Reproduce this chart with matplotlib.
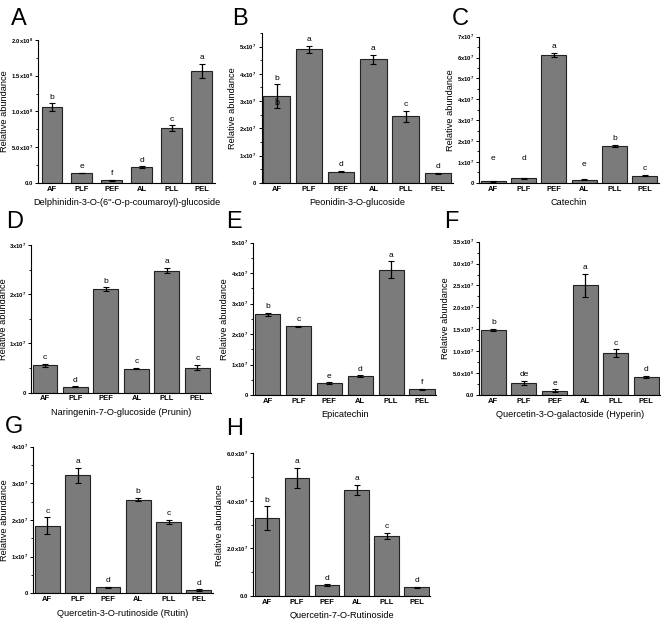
import numpy as np
import matplotlib
matplotlib.use('Agg')
import matplotlib.pyplot as plt
from matplotlib.ticker import AutoMinorLocator, FixedLocator, FuncFormatter

plt.rcParams['font.family'] = ['Liberation Sans', 'DejaVu Sans']
plt.rcParams['mathtext.default'] = 'regular'

groups = ['AF', 'PLF', 'PEF', 'AL', 'PLL', 'PEL']

# values / standard errors / significance letters
A_values = [1.056e8, 0.135e8, 0.037e8, 0.22e8, 0.765e8, 1.57e8]
A_errors = [0.055e8, 0.004e8, 0.008e8, 0.008e8, 0.04e8, 0.1e8]
A_letters = ['b', 'e', 'f', 'd', 'c', 'a']

B_values = [3.18e7, 4.90e7, 0.41e7, 4.53e7, 2.44e7, 0.34e7]
B_errors = [0.43e7, 0.12e7, 0.02e7, 0.18e7, 0.2e7, 0.03e7]
B_letters = ['b', 'a', 'd', 'a', 'c', 'd']

C_values = [0.07e7, 0.21e7, 6.12e7, 0.14e7, 1.77e7, 0.34e7]
C_errors = [0.03e7, 0.04e7, 0.1e7, 0.03e7, 0.05e7, 0.02e7]
C_letters = ['e', 'd', 'a', 'e', 'b', 'c']
C_letter_y = [0.88e7, 0.88e7, None, 0.56e7, None, None]

D_values = [0.56e7, 0.12e7, 2.10e7, 0.49e7, 2.48e7, 0.51e7]
D_errors = [0.03e7, 0.01e7, 0.04e7, 0.01e7, 0.05e7, 0.05e7]
D_letters = ['c', 'd', 'b', 'c', 'a', 'c']

E_values = [2.65e7, 2.26e7, 0.38e7, 0.62e7, 4.12e7, 0.19e7]
E_errors = [0.05e7, 0.02e7, 0.03e7, 0.02e7, 0.27e7, 0.01e7]
E_letters = ['b', 'c', 'e', 'd', 'a', 'f']

F_values = [1.48e7, 0.28e7, 0.10e7, 2.50e7, 0.95e7, 0.41e7]
F_errors = [0.03e7, 0.05e7, 0.03e7, 0.27e7, 0.09e7, 0.02e7]
F_letters = ['b', 'de', 'e', 'a', 'c', 'd']

G_values = [1.84e7, 3.22e7, 0.16e7, 2.56e7, 1.95e7, 0.09e7]
G_errors = [0.23e7, 0.2e7, 0.01e7, 0.05e7, 0.06e7, 0.02e7]
G_letters = ['c', 'a', 'd', 'b', 'c', 'd']

H_values = [3.27e7, 4.95e7, 0.46e7, 4.46e7, 2.51e7, 0.36e7]
H_errors = [0.5e7, 0.42e7, 0.03e7, 0.2e7, 0.13e7, 0.02e7]
H_letters = ['b', 'a', 'd', 'a', 'c', 'd']

titles = ['Delphinidin-3-O-(6\'\'-O-p-coumaroyl)-glucoside', 'Peonidin-3-O-glucoside',
          'Catechin', 'Naringenin-7-O-glucoside (Prunin)', 'Epicatechin',
          'Quercetin-3-O-galactoside (Hyperin)', 'Quercetin-3-O-rutinoside (Rutin)',
          'Quercetin-7-O-Rutinoside']

# (panel, values, errors, letters, y-ticks, y-top, decimals, bar width, axes rect, letter xy)
panels = [
    ('A', A_values, A_errors, A_letters, np.arange(0, 2.01e8, 5e7), 2.0e8, 1, 0.7,
     [0.0573, 0.7048, 0.2645, 0.2305], (0.017, 0.960)),
    ('B', B_values, B_errors, B_letters, np.arange(0, 5.01e7, 1e7), 5.5e7, 0, 0.82,
     [0.3918, 0.7048, 0.2856, 0.2418], (0.347, 0.960)),
    ('C', C_values, C_errors, C_letters, np.arange(0, 7.01e7, 1e7), 7.0e7, 0, 0.82,
     [0.7175, 0.7048, 0.2683, 0.2359], (0.676, 0.960)),
    ('D', D_values, D_errors, D_letters, np.arange(0, 3.01e7, 1e7), 3.0e7, 0, 0.82,
     [0.0464, 0.3656, 0.2695, 0.2386], (0.009, 0.632)),
    ('E', E_values, E_errors, E_letters, np.arange(0, 5.01e7, 1e7), 5.0e7, 0, 0.82,
     [0.3792, 0.3619, 0.2735, 0.2460], (0.339, 0.632)),
    ('F', F_values, F_errors, F_letters, np.arange(0, 3.51e7, 5e6), 3.5e7, 1, 0.82,
     [0.7175, 0.3619, 0.2705, 0.2477], (0.665, 0.632)),
    ('G', G_values, G_errors, G_letters, np.arange(0, 4.01e7, 1e7), 4.0e7, 0, 0.82,
     [0.0499, 0.0415, 0.2683, 0.2368], (0.007, 0.300)),
    ('H', H_values, H_errors, H_letters, np.arange(0, 6.01e7, 2e7), 6.0e7, 1, 0.82,
     [0.3792, 0.0372, 0.2645, 0.2305], (0.339, 0.297)),
]

# left-edge panels: pin the y label so it stays inside the figure
ylabel_x = {'A': -0.168, 'D': -0.125, 'G': -0.138}

narrow = ['Liberation Sans Narrow', 'Liberation Sans', 'DejaVu Sans']


def sci_label(dec):
    def fmt(v, pos):
        if v == 0:
            return '0' if dec == 0 else '0.' + '0' * dec
        e = int(np.floor(np.log10(v) + 1e-9))
        m = v / 10 ** e
        return f'{m:.{dec}f}x10$^{{{e}}}$'
    return fmt


fig = plt.figure(figsize=(6.68, 6.19), dpi=100)
x = np.arange(len(groups))

for i, (name, vals, errs, lets, yt, ytop, dec, bw, rect, lxy) in enumerate(panels):
    ax = fig.add_axes(rect)
    ax.bar(x, vals, width=bw, color='#7b7b7b', edgecolor='#222222', linewidth=0.8,
           yerr=errs, error_kw=dict(ecolor='black', elinewidth=0.9, capsize=2, capthick=0.8))
    ax.set_xlim(-0.46, 5.45)
    ax.set_ylim(0, ytop)
    ax.yaxis.set_major_locator(FixedLocator(yt))
    ax.yaxis.set_minor_locator(AutoMinorLocator(2))
    ax.yaxis.set_major_formatter(FuncFormatter(sci_label(dec)))
    ax.set_xticks(x)
    ax.set_xticklabels(groups, fontsize=5.5, fontweight='bold', family=narrow)
    ax.tick_params(axis='x', length=0, pad=2)
    ax.tick_params(axis='y', which='major', direction='out', length=2.5, width=0.7, labelsize=4.2, pad=1.2)
    ax.tick_params(axis='y', which='minor', direction='out', length=1.5, width=0.6)
    for lab in ax.get_yticklabels():
        lab.set_fontweight('bold')
        lab.set_family(narrow)
    for s in ['top', 'right']:
        ax.spines[s].set_visible(False)
    for s in ['left', 'bottom']:
        ax.spines[s].set_linewidth(0.8)
    ax.set_ylabel('Relative abundance', fontsize=6.7, labelpad=1.5)
    if name in ylabel_x:
        ax.yaxis.set_label_coords(ylabel_x[name], 0.5)
    ax.set_xlabel(titles[i], fontsize=6.6, labelpad=4)

    for j, (v, e, t) in enumerate(zip(vals, errs, lets)):
        y = v + e
        if name == 'C' and C_letter_y[j] is not None:
            y = C_letter_y[j]
        ax.annotate(t, (x[j], y), xytext=(0, 2), textcoords='offset points',
                    ha='center', va='bottom', fontsize=6)
    if name == 'B':
        # duplicated letter printed inside the first bar in the original
        ax.annotate(B_letters[0], (x[0], vals[0]), xytext=(0, -1), textcoords='offset points',
                    ha='center', va='top', fontsize=6.5)

    fig.text(lxy[0], lxy[1], name, fontsize=17, ha='left', va='baseline')

fig.savefig('out.png', dpi=100)
